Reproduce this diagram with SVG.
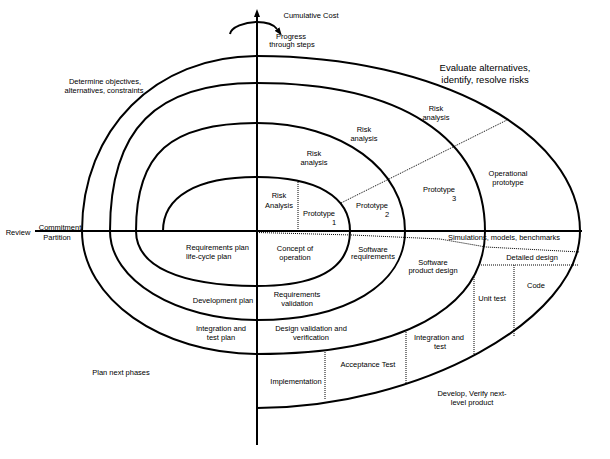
<svg xmlns="http://www.w3.org/2000/svg" width="610" height="459" viewBox="0 0 610 459">
<defs>
<style>
.t{font-family:"Liberation Sans",Arial,sans-serif;font-size:7.5px;fill:#000;text-anchor:middle}
.l{text-anchor:start}
.big{font-size:9.5px}
.s{fill:none;stroke:#000;stroke-width:2}
.d{fill:none;stroke:#000;stroke-width:1;stroke-dasharray:1 1}
</style>
<marker id="ah" viewBox="0 0 8 6" refX="0" refY="3" markerWidth="8" markerHeight="6" markerUnits="userSpaceOnUse" orient="auto">
<path d="M0,0 L8,3 L0,6 z" fill="#000"/>
</marker>
</defs>
<rect width="610" height="459" fill="#fff"/>
<g id="connectors">
<path class="s" d="M35,231 H582"/>
<path class="s" d="M257,445 V17" marker-end="url(#ah)"/>
<path class="s" d="M230,34 C231,27 245,22 257,22 C267,22 274,25 277,29" marker-end="url(#ah)"/>
<path class="s" d="M163,231 C163,196.4 196.8,177 257,177 C316.5,177 350,196.4 350,231 C350,267.3 319,286 257,286 C179.6,286 136,266.2 136,231 C136,153.2 170.6,123 257,123 C341.4,123 405,169.4 405,231 C405,284.4 345.8,320 257,320 C176.2,320 110,280 110,231 C110,128.9 155.6,83 257,83 C400.6,83 485,137.8 485,231 C485,308.5 400.6,354 257,354 C160.8,354 82,298.7 82,231 C82,129.5 155.5,56 257,56 C437.9,56 580,133 580,231 C580,319.5 418.5,408 257,408"/>
<path class="d" d="M298,180 V231"/>
<path class="d" d="M341,203 L507,120"/>
<path class="d" d="M257,232.5 L352,235 L440,239 L486,247 L580,252"/>
<path class="d" d="M481,265 H578"/>
<path class="d" d="M514,265 V337"/>
<path class="d" d="M474,277 V357"/>
<path class="d" d="M406,330 V384"/>
<path class="d" d="M325,352 V399"/>
</g>
<g id="cost"><text class="t" x="311" y="17.5">Cumulative Cost</text></g>
<g id="progress"><text class="t" x="291" y="38.5">Progress</text><text class="t" x="292" y="47">through steps</text></g>
<g id="determine"><text class="t" x="105" y="83.5">Determine objectives,</text><text class="t" x="104" y="92.5">alternatives, constraints</text></g>
<g id="evaluate"><text class="t big" x="485" y="70.5">Evaluate alternatives,</text><text class="t big" x="485" y="82.5">identify, resolve risks</text></g>
<g id="risk4"><text class="t" x="436" y="111">Risk</text><text class="t" x="436" y="119.5">analysis</text></g>
<g id="risk3"><text class="t" x="364" y="132">Risk</text><text class="t" x="364" y="141">analysis</text></g>
<g id="risk2"><text class="t" x="314" y="155.5">Risk</text><text class="t" x="314" y="164.5">analysis</text></g>
<g id="risk1"><text class="t" x="279" y="198">Risk</text><text class="t" x="279" y="207.5">Analysis</text></g>
<g id="proto1"><text class="t" x="319" y="215.5">Prototype</text><text class="t" x="334" y="225">1</text></g>
<g id="proto2"><text class="t" x="372" y="208">Prototype</text><text class="t" x="387" y="217">2</text></g>
<g id="proto3"><text class="t" x="439" y="192">Prototype</text><text class="t" x="454" y="201">3</text></g>
<g id="opproto"><text class="t" x="508" y="175.5">Operational</text><text class="t" x="508" y="184.5">prototype</text></g>
<g id="review"><text class="t" x="18" y="235">Review</text></g>
<g id="commit"><text class="t" x="60" y="229.5">Commitment</text><text class="t" x="57" y="239.5">Partition</text></g>
<g id="reqplan"><text class="t l" x="186" y="250">Requirements plan</text><text class="t l" x="186" y="259">life-cycle plan</text></g>
<g id="concept"><text class="t" x="295" y="251">Concept of</text><text class="t" x="295" y="260">operation</text></g>
<g id="swreq"><text class="t" x="373" y="251.5">Software</text><text class="t" x="373" y="259">requirements</text></g>
<g id="swpd"><text class="t" x="433" y="264.5">Software</text><text class="t" x="433" y="273">product design</text></g>
<g id="sim"><text class="t" x="504" y="239.5">Simulations, models, benchmarks</text></g>
<g id="detdes"><text class="t" x="532" y="260">Detailed design</text></g>
<g id="code"><text class="t" x="536" y="287.5">Code</text></g>
<g id="unit"><text class="t" x="492" y="300.5">Unit test</text></g>
<g id="devplan"><text class="t" x="223" y="302.5">Development plan</text></g>
<g id="reqval"><text class="t" x="297" y="297">Requirements</text><text class="t" x="297" y="306">validation</text></g>
<g id="inttestplan"><text class="t" x="221" y="330.5">Integration and</text><text class="t" x="221" y="339.5">test plan</text></g>
<g id="desval"><text class="t" x="311" y="330.5">Design validation and</text><text class="t" x="311" y="339.5">verification</text></g>
<g id="impl"><text class="t" x="296" y="383.5">Implementation</text></g>
<g id="accept"><text class="t" x="368" y="367">Acceptance Test</text></g>
<g id="inttest"><text class="t" x="439" y="340">Integration and</text><text class="t" x="440" y="349">test</text></g>
<g id="develop"><text class="t" x="472" y="396">Develop, Verify next-</text><text class="t" x="472" y="405">level product</text></g>
<g id="plan"><text class="t" x="121" y="374.5">Plan next phases</text></g>
</svg>
